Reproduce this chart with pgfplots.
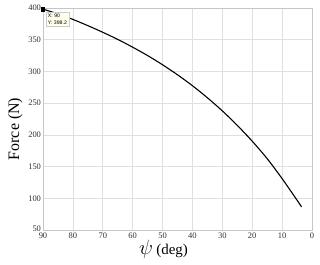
\documentclass[border=0pt]{standalone}
\usepackage{pgfplots}
\pgfplotsset{compat=1.18}
\usepackage{fontspec}
\setmainfont{Liberation Serif}
\newfontfamily\tipfont{Liberation Sans}
\begin{document}
\begin{tikzpicture}
\begin{axis}[
  scale only axis,
  width=269bp, height=222bp,
  xmin=0, xmax=90, ymin=50, ymax=400,
  x dir=reverse,
  xtick={0,10,...,90}, ytick={50,100,...,400},
  yticklabels={\raisebox{2.5bp}{50},100,150,200,250,300,350,400},
  grid=major,
  grid style={gray!25, line width=0.6pt},
  axis line style={gray!45, line width=0.6pt},
  tick style={draw=none},
  /pgf/number format/assume math mode=true,
  tick label style={font=\fontsize{8.5}{10}\selectfont, text=black!80},
  xticklabel style={yshift=0.5bp},
  yticklabel style={xshift=1.5bp},
  xlabel={\fontsize{20}{22}\selectfont$\psi$\,\fontsize{15}{17}\selectfont(deg)},
  ylabel={\fontsize{16}{18}\selectfont Force (N)},
  xlabel style={yshift=5bp, xshift=-14bp},
  ylabel style={yshift=-1bp, xshift=-10bp},
]
\addplot[black, line width=1.1pt, smooth] coordinates {
(90,398.2) (85,390.7) (80,382.0) (75,372.2) (70,361.7) (65,350.5)
(60,338.2) (55,325.0) (50,310.5) (45,294.7) (40,277.5) (35,258.5)
(30,237.8) (25,215.0) (20,190.0) (15,162.5) (10,131.0) (5,97.0) (3.5,86.5)
};
\addplot[only marks, mark=square*, mark size=1.6pt, black] coordinates {(90,398.2)};
\node[anchor=north west, fill=yellow!8, draw=gray!40, line width=0.3pt,
  font=\tipfont\fontsize{5.2}{6.5}\selectfont, align=left, inner sep=1.8pt]
  at (axis cs:89,393.5) {X: 90\\Y: 398.2};
\end{axis}
\path (current axis.south west) ++(-43bp,-34bp) (current axis.north east) ++(8bp,8bp);
\end{tikzpicture}
\end{document}
